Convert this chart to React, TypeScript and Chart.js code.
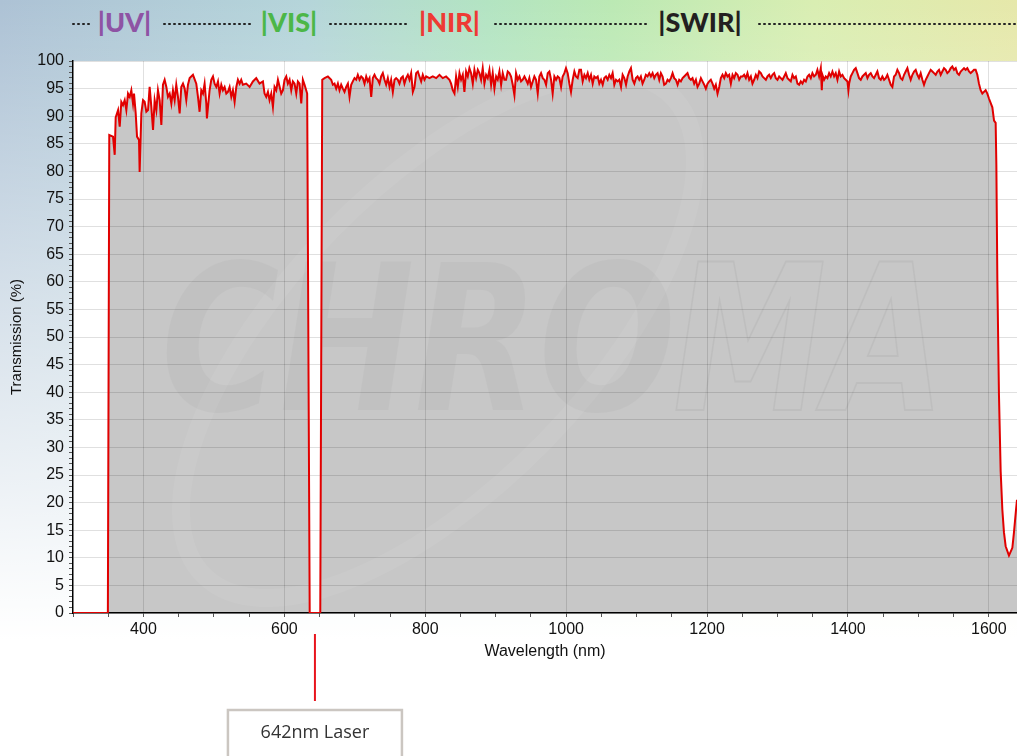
import React, { useEffect, useRef } from "react";
import { Chart, registerables } from "chart.js";

Chart.register(...registerables);

// ---------- DATA ----------
// UV / VIS part, including the 642 nm notch
const uvVisNm = [
  300, 349.5, 351.5, 356.8, 359.2, 360.6, 364, 366.3, 368.6, 371,
  373.4, 375.7, 378.1, 380.5, 382.8, 385.2, 386.6, 389, 390.9, 393.7,
  394.6, 397, 399.4, 401.7, 404.1, 406.5, 408.8, 411.2, 413.6, 415.9,
  418.3, 420.6, 423, 425.4, 427.7, 430.1, 432.5, 434.8, 437.2, 439.6,
  441.9, 444.3, 446.6, 449, 451.4, 453.7, 456.1, 458.5, 460.8, 463.2,
  465.6, 470.3, 475, 477.4, 479.7, 482.1, 484.5, 486.8, 489.2, 490.1,
  493.9, 496.3, 498.7, 501, 503.4, 505.8, 508.1, 510.5, 512.8, 515.2,
  517.6, 519.9, 522.3, 524.7, 527, 529.4, 531.8, 534.1, 536.5, 538.8,
  541.2, 545.9, 550.7, 555.4, 560.1, 564.8, 569.6, 571.9, 574.3, 576.7,
  579, 581.4, 583.8, 586.1, 588.5, 590.9, 595.6, 598, 600.3, 602.7,
  605, 607.4, 609.8, 612.1, 614.5, 616.9, 619.2, 621.6, 624, 626.3,
  628.7, 631, 632.4, 636, 651,
];
const uvVisT = [
  0, 0, 86.6, 86.3, 83.0, 89.8, 91.1, 88.1, 92.6, 92.0,
  92.9, 91.1, 94.1, 93.5, 94.7, 92.3, 94.1, 90.5, 86.3, 85.7,
  79.9, 90.5, 92.9, 92.6, 90.8, 91.1, 95.3, 91.7, 87.5, 92.9,
  91.1, 94.7, 92.9, 88.4, 95.7, 96.6, 95.3, 93.5, 94.1, 92.3,
  94.7, 92.9, 95.7, 93.5, 90.5, 95.3, 95.9, 95.0, 92.9, 95.7,
  96.9, 97.5, 95.9, 93.5, 90.8, 94.7, 94.1, 95.9, 92.3, 89.6,
  94.7, 96.6, 97.2, 95.9, 95.3, 96.3, 94.1, 95.7, 94.7, 95.3,
  94.1, 94.4, 95.3, 93.5, 94.7, 92.6, 95.3, 96.6, 95.9, 96.6,
  95.7, 95.9, 95.3, 96.3, 96.9, 95.9, 96.3, 94.1, 93.5, 94.4,
  92.9, 94.1, 91.7, 95.3, 94.7, 96.6, 94.1, 94.7, 96.6, 97.2,
  95.9, 96.6, 94.7, 96.3, 95.9, 94.1, 96.3, 95.9, 92.3, 96.6,
  95.7, 94.7, 94.1, 0, 0,
];

// NIR part
const nirNm = [
  653.8, 657.1, 661.8, 666.5, 668.9, 671.2, 673.6, 676, 678.3, 680.7,
  683.1, 685.4, 687.8, 690.2, 692.5, 694.9, 697.2, 699.6, 702, 704.3,
  706.7, 709.1, 711.4, 713.8, 716.2, 718.5, 720.9, 723.3, 725.6, 728,
  730.3, 732.7, 735.1, 737.4, 739.8, 742.2, 744.5, 746.9, 749.3, 751.6,
  754, 756.4, 758.7, 761.1, 763.4, 765.8, 768.2, 770.5, 772.9, 775.3,
  777.6, 780, 782.4, 784.7, 787.1, 789.5, 791.8, 794.2, 796.5, 798.9,
  801.3, 806, 810.7, 815.5, 820.2, 824.9, 829.6, 834.4, 836.7, 839.1,
  841.5, 843.8, 846.2, 848.6, 850.9, 853.3, 855.6, 858, 860.4, 862.7,
  865.1, 867.5, 869.8, 872.2, 874.6, 876.9, 879.3, 881.6, 884, 886.4,
  888.7, 891.1, 893.5, 895.8, 898.2, 900.6, 902.9, 905.3, 907.7, 910,
  912.4, 914.7, 917.1, 919.5, 921.8, 924.2, 926.6, 928.9, 931.3, 933.7,
  936, 938.4, 940.8, 943.1, 945.5, 947.8, 950.2, 952.6, 954.9, 957.3,
  959.7, 962, 964.4, 966.8, 969.1, 971.5, 973.9, 976.2, 978.6, 980.9,
  983.3, 985.7, 988, 990.4, 992.8, 995.1, 997.5, 999.8, 1002.2, 1004.6,
  1006.9, 1009.3, 1011.7, 1014, 1016.4, 1018.8, 1021.1, 1023.5, 1025.9, 1028.2,
  1030.6, 1032.9, 1035.3, 1037.7, 1040, 1042.4, 1044.8, 1047.1, 1049.5, 1051.9,
  1054.2, 1056.6, 1059, 1061.3, 1063.7, 1066, 1068.4, 1070.8, 1073.1, 1075.5,
  1077.9, 1080.2, 1082.6, 1085, 1087.3, 1089.7, 1092, 1094.4, 1096.8, 1099.1,
];
const nirT = [
  96.6, 96.9, 97.2, 96.6, 95.7, 95.9, 95.0, 95.9, 94.7, 95.7,
  95.0, 94.4, 95.3, 95.9, 93.5, 95.7, 96.3, 96.9, 96.6, 97.5,
  96.6, 97.2, 96.9, 95.9, 97.2, 96.3, 96.9, 93.5, 96.9, 97.5,
  96.9, 96.6, 95.9, 97.2, 97.8, 96.6, 95.7, 96.9, 95.3, 96.6,
  94.4, 96.6, 96.9, 96.6, 95.9, 96.9, 97.2, 95.9, 96.9, 97.5,
  96.6, 97.8, 94.4, 95.3, 97.8, 98.1, 97.2, 96.3, 97.5, 96.6,
  97.2, 96.9, 97.2, 96.9, 97.5, 96.9, 97.2, 96.6, 95.9, 94.7,
  94.1, 97.2, 95.3, 97.8, 96.6, 97.5, 94.4, 98.1, 97.2, 98.7,
  97.8, 95.9, 98.4, 96.9, 98.4, 97.8, 96.6, 98.7, 95.9, 97.5,
  96.9, 98.4, 95.7, 97.8, 95.0, 97.2, 96.6, 98.1, 95.7, 97.8,
  96.6, 96.6, 98.1, 97.8, 97.2, 95.7, 93.8, 97.8, 96.6, 97.2,
  96.3, 96.6, 97.2, 96.6, 95.9, 96.9, 95.3, 96.3, 97.2, 96.6,
  94.1, 97.2, 97.8, 96.9, 96.6, 95.7, 97.8, 98.1, 96.6, 94.1,
  97.2, 96.6, 97.2, 96.9, 95.3, 97.2, 97.8, 98.7, 97.8, 95.9,
  94.4, 96.6, 98.1, 97.2, 96.9, 98.4, 98.4, 96.3, 97.5, 96.9,
  97.8, 96.6, 97.5, 95.9, 97.2, 96.9, 97.2, 95.9, 96.6, 95.7,
  96.9, 97.2, 96.6, 97.5, 96.9, 97.8, 95.7, 96.6, 96.3, 96.6,
  95.3, 97.5, 96.9, 95.7, 97.2, 98.1, 98.7, 96.6, 95.9, 96.9,
];

// SWIR part, including the long-wave edge
const swirNm = [
  1101.4, 1103.8, 1106.1, 1108.5, 1110.9, 1113.2, 1115.6, 1118, 1120.3, 1122.7,
  1125.1, 1127.4, 1129.8, 1132.2, 1134.5, 1136.9, 1139.2, 1141.6, 1144, 1146.3,
  1148.7, 1151.1, 1153.4, 1155.8, 1158.2, 1160.5, 1162.9, 1165.3, 1167.6, 1170,
  1172.3, 1174.7, 1177.1, 1179.4, 1181.8, 1184.2, 1186.5, 1188.9, 1191.3, 1193.6,
  1196, 1198.3, 1200.7, 1203.1, 1205.4, 1207.8, 1210.2, 1212.5, 1214.9, 1217.3,
  1219.6, 1222, 1224.4, 1226.7, 1229.1, 1231.4, 1233.8, 1236.2, 1238.5, 1240.9,
  1243.3, 1245.6, 1248, 1250.4, 1252.7, 1255.1, 1257.4, 1259.8, 1262.2, 1264.5,
  1266.9, 1269.3, 1271.6, 1274, 1276.4, 1278.7, 1281.1, 1283.5, 1285.8, 1288.2,
  1290.5, 1292.9, 1295.3, 1297.6, 1300, 1302.4, 1304.7, 1307.1, 1309.5, 1311.8,
  1314.2, 1316.5, 1318.9, 1321.3, 1323.6, 1326, 1328.4, 1330.7, 1333.1, 1335.5,
  1337.8, 1340.2, 1342.6, 1344.9, 1347.3, 1349.6, 1352, 1354.4, 1356.7, 1359.1,
  1361.5, 1362.9, 1363.8, 1366.2, 1368.6, 1370.9, 1373.3, 1375.6, 1378, 1380.4,
  1382.7, 1385.1, 1387.5, 1389.8, 1392.2, 1394.6, 1396.9, 1399.3, 1400.7, 1401.7,
  1404, 1406.4, 1408.7, 1411.1, 1413.5, 1415.8, 1418.2, 1420.6, 1422.9, 1425.3,
  1427.7, 1430, 1432.4, 1434.8, 1437.1, 1439.5, 1441.8, 1444.2, 1446.6, 1448.9,
  1451.3, 1453.7, 1456, 1458.4, 1460.8, 1463.1, 1465.5, 1467.8, 1470.2, 1472.6,
  1474.9, 1477.3, 1479.7, 1482, 1484.4, 1486.8, 1489.1, 1491.5, 1493.9, 1496.2,
  1498.6, 1500.9, 1503.3, 1505.7, 1508, 1510.4, 1512.8, 1515.1, 1517.5, 1519.9,
  1522.2, 1524.6, 1527, 1529.3, 1531.7, 1534, 1536.4, 1538.8, 1541.1, 1543.5,
  1545.9, 1548.2, 1550.6, 1553, 1555.3, 1557.7, 1560.1, 1562.4, 1564.8, 1567.1,
  1569.5, 1571.9, 1574.2, 1576.6, 1579, 1581.3, 1583.7, 1586, 1588.4, 1590.8,
  1593.1, 1595.5, 1597.9, 1600.2, 1605, 1607.4, 1609.7, 1610.7, 1612.1, 1614.4,
  1616.8, 1619.2, 1621.5, 1623.9, 1628.6, 1633.4, 1635.7, 1638.6, 1640,
];
const swirT = [
  97.2, 96.6, 97.2, 95.9, 96.6, 97.5, 97.2, 97.8, 97.2, 97.8,
  96.9, 97.5, 97.8, 96.6, 97.8, 97.2, 95.7, 95.9, 96.6, 96.3,
  96.9, 97.8, 96.9, 96.6, 95.7, 96.6, 96.3, 96.9, 97.2, 97.5,
  97.8, 96.9, 96.6, 96.9, 95.9, 96.6, 95.3, 95.9, 96.9, 96.3,
  95.7, 95.0, 95.9, 96.3, 96.6, 95.9, 95.0, 95.7, 94.1, 95.3,
  96.9, 97.5, 96.9, 97.8, 97.2, 97.5, 95.9, 97.5, 96.9, 97.8,
  97.5, 96.6, 97.2, 97.2, 97.5, 96.9, 97.8, 96.6, 97.2, 95.9,
  96.6, 97.5, 96.9, 98.1, 97.8, 97.2, 96.9, 96.6, 97.2, 97.5,
  96.9, 97.5, 97.8, 96.9, 96.6, 97.2, 96.9, 96.6, 97.2, 97.8,
  96.9, 96.6, 96.3, 97.5, 96.9, 97.2, 95.9, 95.7, 96.3, 95.9,
  96.6, 96.3, 97.2, 97.5, 96.9, 97.8, 97.2, 97.5, 98.4, 97.2,
  98.7, 94.7, 97.5, 96.6, 97.2, 96.9, 97.8, 97.2, 98.1, 97.2,
  97.8, 96.6, 98.1, 97.2, 97.5, 96.9, 96.6, 96.3, 94.7, 95.9,
  97.2, 97.8, 98.4, 98.7, 97.8, 96.9, 96.6, 97.2, 97.5, 97.8,
  96.9, 97.5, 97.8, 97.2, 96.9, 97.5, 98.1, 96.9, 96.6, 97.2,
  96.6, 96.9, 97.5, 96.6, 95.7, 95.3, 97.2, 97.5, 98.4, 97.8,
  96.9, 96.6, 97.5, 98.1, 98.7, 97.5, 96.6, 97.5, 98.1, 98.4,
  97.5, 96.9, 97.8, 96.6, 95.7, 96.6, 97.2, 97.8, 98.4, 98.1,
  97.8, 97.5, 98.1, 98.4, 97.5, 98.1, 98.7, 98.4, 97.8, 98.1,
  98.7, 99.0, 98.4, 98.7, 97.8, 97.5, 98.1, 98.4, 98.7, 98.4,
  98.7, 98.1, 97.8, 98.1, 98.4, 98.4, 97.5, 95.9, 94.7, 94.1,
  94.4, 94.7, 94.1, 93.2, 91.6, 89.2, 88.8, 81.2, 60.4, 39.5,
  25.7, 18.7, 14.6, 12.1, 10.4, 11.8, 14.6, 18.7, 20.5,
];

const xMajorTicks = [400, 600, 800, 1000, 1200, 1400, 1600];
const yMajorTicks = [0, 5, 10, 15, 20, 25, 30, 35, 40, 45, 50, 55, 60, 65, 70, 75, 80, 85, 90, 95, 100];
const xTitle = "Wavelength (nm)";
const yTitle = "Transmission (%)";
const laserNm = 642;
const laserLabel = "642nm Laser";
const watermarkSolid = "CHRO";
const watermarkOutline = "MA";

const bands = [
  { text: "|UV|", color: "#8e53a4", center: 124.5 },
  { text: "|VIS|", color: "#4cb748", center: 289 },
  { text: "|NIR|", color: "#ee3a34", center: 449.5 },
  { text: "|SWIR|", color: "#231f20", center: 700 },
];
const dotRuns = [
  { left: 71, width: 20 },
  { left: 162, width: 90 },
  { left: 328, width: 80 },
  { left: 493, width: 155 },
  { left: 757, width: 262 },
];

const GRID = "rgba(0,0,0,0.12)";
const TICK_FONT = { family: "'Liberation Sans', Arial, sans-serif", size: 16 };

function buildPoints() {
  const pts: { x: number; y: number }[] = [];
  const add = (nm: number[], t: number[]) => {
    const n = Math.min(nm.length, t.length);
    for (let i = 0; i < n; i++) pts.push({ x: nm[i], y: t[i] });
  };
  add(uvVisNm, uvVisT);
  add(nirNm, nirT);
  add(swirNm, swirT);
  return pts;
}

export default function App() {
  const canvasRef = useRef<HTMLCanvasElement | null>(null);
  const plotBgRef = useRef<HTMLDivElement | null>(null);

  useEffect(() => {
    document.body.style.margin = "0";
    const canvas = canvasRef.current;
    if (!canvas) return;

    const xTicks: number[] = [];
    for (let v = 300; v <= 1600; v += 50) xTicks.push(v);
    const yTicks: number[] = [];
    for (let v = 0; v <= 100; v += 1) yTicks.push(v);

    const watermark = {
      id: "watermark",
      beforeDraw(chart: any) {
        const { ctx, chartArea: a } = chart;
        ctx.save();
        ctx.beginPath();
        ctx.rect(a.left, a.top, a.right - a.left, a.bottom - a.top);
        ctx.clip();
        ctx.globalCompositeOperation = "source-atop";
        // swoosh ellipse
        ctx.strokeStyle = "rgba(255,255,255,0.055)";
        ctx.lineWidth = 18;
        ctx.beginPath();
        ctx.ellipse(a.left + 365, a.top + 275, 335, 150, -0.8, 0, Math.PI * 2);
        ctx.stroke();
        // letters
        ctx.font = "italic bold 203px 'DejaVu Sans'";
        ctx.textBaseline = "alphabetic";
        const w1 = ctx.measureText(watermarkSolid).width;
        ctx.save();
        ctx.translate(a.left + 88, a.top + 349);
        ctx.scale(515 / w1, 1);
        ctx.fillStyle = "rgba(0,0,0,0.028)";
        ctx.fillText(watermarkSolid, 0, 0);
        ctx.restore();
        const w2 = ctx.measureText(watermarkOutline).width;
        ctx.save();
        ctx.translate(a.left + 600, a.top + 349);
        ctx.scale(272 / w2, 1);
        ctx.strokeStyle = "rgba(0,0,0,0.045)";
        ctx.lineWidth = 2;
        ctx.strokeText(watermarkOutline, 0, 0);
        ctx.restore();
        ctx.restore();
      },
    };

    const laser = {
      id: "laser",
      afterDraw(chart: any) {
        const { ctx } = chart;
        const x = chart.scales.x.getPixelForValue(laserNm) + 1;
        ctx.save();
        ctx.strokeStyle = "#e8141c";
        ctx.lineWidth = 2;
        ctx.beginPath();
        ctx.moveTo(x, 634);
        ctx.lineTo(x, 701);
        ctx.stroke();
        ctx.fillStyle = "#ffffff";
        ctx.fillRect(x - 87, 710, 174, 60);
        ctx.strokeStyle = "#cbc6c1";
        ctx.lineWidth = 2.5;
        ctx.strokeRect(x - 87, 710, 174, 60);
        ctx.fillStyle = "#333333";
        ctx.font = "18px 'Open Sans'";
        ctx.textAlign = "center";
        ctx.textBaseline = "middle";
        ctx.fillText(laserLabel, x, 733);
        ctx.restore();
      },
    };

    const chart = new Chart(canvas, {
      type: "line",
      data: {
        datasets: [
          {
            data: buildPoints(),
            borderColor: "#e10000",
            borderWidth: 2,
            backgroundColor: "#c7c7c7",
            fill: "origin",
            pointRadius: 0,
            tension: 0,
          },
        ],
      },
      options: {
        animation: false,
        responsive: false,
        maintainAspectRatio: false,
        parsing: false,
        normalized: true,
        layout: { padding: { top: 61, left: 0, right: 0, bottom: 0 } },
        plugins: {
          legend: { display: false },
          tooltip: { enabled: false },
          filler: { drawTime: "beforeDraw" },
        },
        scales: {
          x: {
            type: "linear",
            min: 300,
            max: 1640,
            afterBuildTicks: (s: any) => {
              s.ticks = xTicks.map((v) => ({ value: v }));
            },
            afterFit: (s: any) => {
              s.height = 143;
            },
            ticks: {
              autoSkip: false,
              maxRotation: 0,
              padding: 3,
              color: "#111",
              font: TICK_FONT,
              callback: (v: any) => (xMajorTicks.includes(Number(v)) ? String(v) : ""),
            },
            grid: {
              color: (c: any) => (c.tick && xMajorTicks.includes(c.tick.value) ? GRID : "rgba(0,0,0,0)"),
              tickColor: "#555",
              tickLength: 4,
            },
            border: { display: true, color: "#000", width: 1.5 },
            title: {
              display: true,
              text: xTitle,
              color: "#111",
              font: { family: "'Liberation Sans', Arial, sans-serif", size: 16 },
              padding: { top: 0, bottom: 95 },
            },
          },
          y: {
            type: "linear",
            min: 0,
            max: 100,
            afterBuildTicks: (s: any) => {
              s.ticks = yTicks.map((v) => ({ value: v }));
            },
            afterFit: (s: any) => {
              s.width = 73;
            },
            ticks: {
              autoSkip: false,
              padding: 5,
              color: "#111",
              font: TICK_FONT,
              callback: (v: any) => (yMajorTicks.includes(Number(v)) ? String(v) : ""),
            },
            grid: {
              color: (c: any) => (c.tick && yMajorTicks.includes(c.tick.value) ? GRID : "rgba(0,0,0,0)"),
              tickColor: "#555",
              tickLength: 4,
            },
            border: { display: true, color: "#000", width: 1.5 },
            title: {
              display: true,
              text: yTitle,
              color: "#111",
              font: { family: "'Liberation Sans', Arial, sans-serif", size: 15 },
              padding: { top: 8, bottom: 0 },
            },
          },
        },
      },
      plugins: [watermark, laser],
    } as any);

    const a = chart.chartArea;
    if (plotBgRef.current && a) {
      const st = plotBgRef.current.style;
      st.left = a.left + "px";
      st.top = a.top + "px";
      st.width = a.right - a.left + "px";
      st.height = a.bottom - a.top + "px";
    }

    return () => chart.destroy();
  }, []);

  return (
    <div
      style={{
        position: "relative",
        width: 1017,
        height: 756,
        overflow: "hidden",
        backgroundColor: "#fff",
        backgroundImage:
          "linear-gradient(to bottom, rgba(255,255,255,0) 0px, rgba(255,255,255,0.1) 60px, rgba(255,255,255,0.5) 300px, rgba(255,255,255,0.92) 580px, #fff 640px), linear-gradient(to right, #adc2d5 0%, #b5d5da 30%, #b3e4c2 48%, #bbe9b4 60%, #d9eeb2 80%, #e6e8aa 100%)",
      }}
    >
      {dotRuns.map((d, i) => (
        <div
          key={"d" + i}
          style={{
            position: "absolute",
            left: d.left,
            top: 21.5,
            width: d.width,
            height: 4,
            backgroundImage: "radial-gradient(circle, #222 1px, rgba(0,0,0,0) 1.5px)",
            backgroundSize: "5px 4px",
          }}
        />
      ))}
      {bands.map((b) => (
        <div
          key={b.text}
          style={{
            position: "absolute",
            left: b.center,
            top: 8,
            transform: "translateX(-50%)",
            fontFamily: "Lato, 'Open Sans', sans-serif",
            fontWeight: 900,
            fontSize: 27,
            lineHeight: "27px",
            color: b.color,
            whiteSpace: "nowrap",
          }}
        >
          {b.text}
        </div>
      ))}
      <div ref={plotBgRef} style={{ position: "absolute", background: "#fff" }} />
      <canvas
        ref={canvasRef}
        width={1017}
        height={756}
        style={{ position: "absolute", left: 0, top: 0, display: "block" }}
      />
    </div>
  );
}
